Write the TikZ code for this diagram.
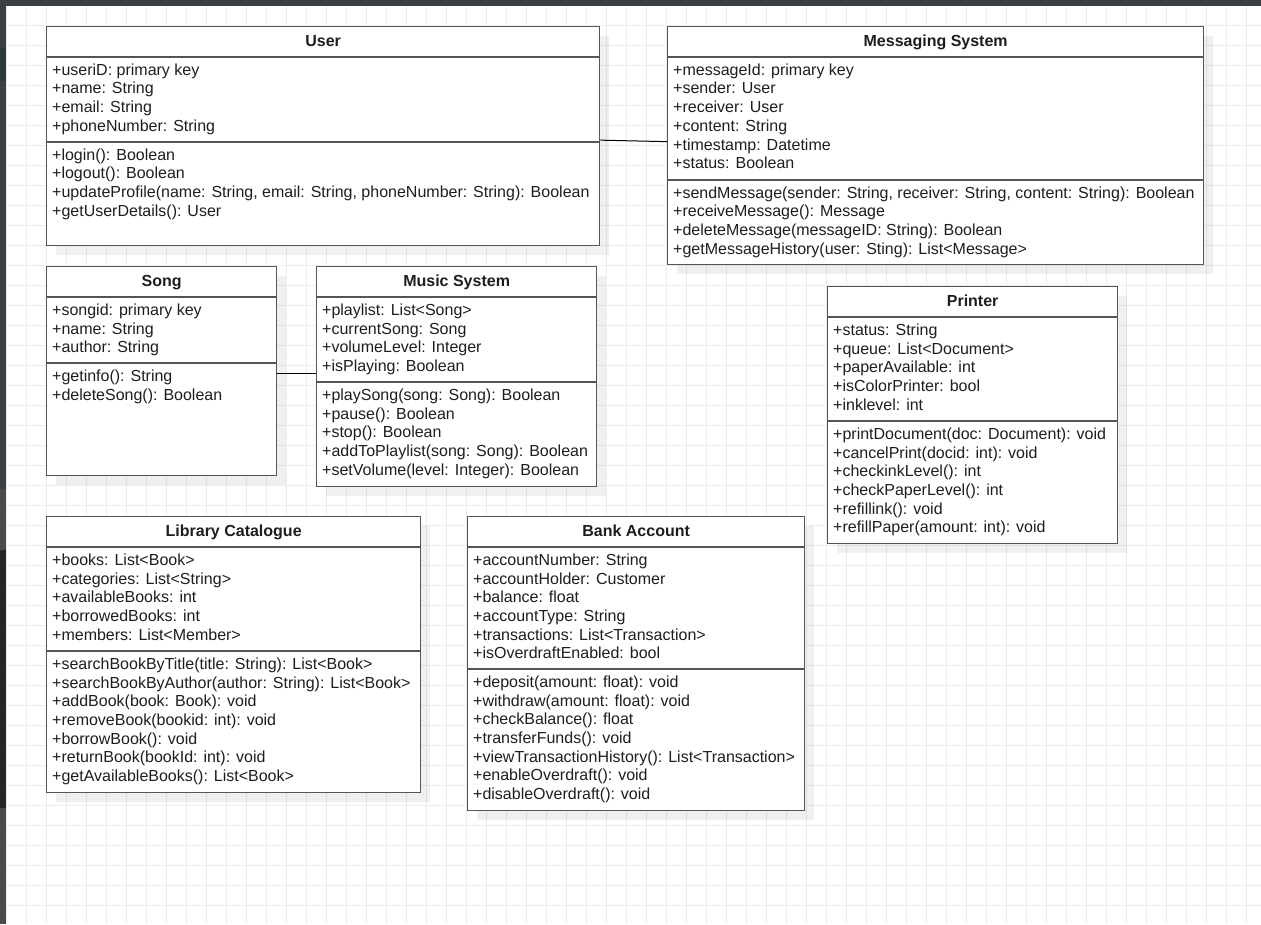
\documentclass[tikz,border=0pt]{standalone}
\usepackage{fontspec}
\setmainfont{Liberation Sans}
\usetikzlibrary{shadows}

\definecolor{boxgray}{RGB}{85,85,85}
\definecolor{textdark}{RGB}{30,30,30}
\definecolor{gridgray}{RGB}{236,236,236}
\definecolor{barslate}{RGB}{58,63,68}
\definecolor{bardeep}{RGB}{47,56,56}
\definecolor{barmid}{RGB}{74,74,74}
\definecolor{barblack}{RGB}{37,37,37}

\tikzset{
  classbox/.style={draw=boxgray,line width=1.3pt,fill=white,inner sep=0pt,anchor=north west,
    drop shadow={shadow xshift=9pt,shadow yshift=-9pt,fill=black,opacity=.06}},
  classhead/.style={font=\fontsize{16}{18.7}\selectfont\bfseries,text=textdark,inner sep=0pt,anchor=base},
  members/.style={font=\fontsize{16}{18.7}\selectfont,text=textdark,inner sep=0pt,align=left,
    anchor=north west,execute at begin node=\rule{0pt}{13pt}},
  classline/.style={draw=boxgray,line width=1.3pt},
  assoc/.style={draw=black,line width=1pt},
  gridline/.style={draw=gridgray,line width=1.3pt}
}

\begin{document}
\begin{tikzpicture}[x=1pt,y=-1pt]
\useasboundingbox (0,0) rectangle (1261,924);

\fill[white] (0,0) rectangle (1261,924);
\foreach \gx in {0,...,62}
  \draw[gridline] ({6.7+20*\gx},5.7) -- ({6.7+20*\gx},924);
\foreach \gy in {0,...,45}
  \draw[gridline] (6.7,{5.7+20*\gy}) -- (1261,{5.7+20*\gy});

\fill[barslate] (0,0) rectangle (1261,5.7);
\fill[barslate] (0,0) rectangle (6,48);
\fill[bardeep] (0,48) rectangle (6,81);
\fill[barslate] (0,81) rectangle (6,489);
\fill[barmid] (0,489) rectangle (6,550);
\fill[barblack] (0,550) rectangle (6,808);
\fill[barmid] (0,808) rectangle (6,924);

% User
\node[classbox,minimum width=553,minimum height=219] (user) at (46,26) {};
\node[classhead,yshift=-20.7pt] (userhead) at (user.north) {User};
\draw[classline] (user.west |- 0,57) -- (user.east |- 0,57);
\node[members] (userattr) at (52,63.5) {+useriD: primary key\\+name: String\\+email: String\\+phoneNumber: String};
\draw[classline] (user.west |- 0,142) -- (user.east |- 0,142);
\node[members] (userops) at (52,148.5) {+login(): Boolean\\+logout(): Boolean\\+updateProfile(name: String, email: String, phoneNumber: String): Boolean\\+getUserDetails(): User};

% Messaging System
\node[classbox,minimum width=536,minimum height=238] (msg) at (667,26) {};
\node[classhead,yshift=-20.7pt] (msghead) at (msg.north) {Messaging System};
\draw[classline] (msg.west |- 0,57) -- (msg.east |- 0,57);
\node[members] (msgattr) at (673,63.5) {+messageId: primary key\\+sender: User\\+receiver: User\\+content: String\\+timestamp: Datetime\\+status: Boolean};
\draw[classline] (msg.west |- 0,180) -- (msg.east |- 0,180);
\node[members] (msgops) at (673,186.5) {+sendMessage(sender: String, receiver: String, content: String): Boolean\\+receiveMessage(): Message\\+deleteMessage(messageID: String): Boolean\\+getMessageHistory(user: Sting): List<Message>};

% Song
\node[classbox,minimum width=230,minimum height=209] (song) at (46,266) {};
\node[classhead,yshift=-20.7pt] (songhead) at (song.north) {Song};
\draw[classline] (song.west |- 0,297) -- (song.east |- 0,297);
\node[members] (songattr) at (52,303.5) {+songid: primary key\\+name: String\\+author: String};
\draw[classline] (song.west |- 0,363) -- (song.east |- 0,363);
\node[members] (songops) at (52,369.5) {+getinfo(): String\\+deleteSong(): Boolean};

% Music System
\node[classbox,minimum width=280,minimum height=220] (music) at (316,266) {};
\node[classhead,yshift=-20.7pt] (musichead) at (music.north) {Music System};
\draw[classline] (music.west |- 0,297) -- (music.east |- 0,297);
\node[members] (musicattr) at (322,303.5) {+playlist: List<Song>\\+currentSong: Song\\+volumeLevel: Integer\\+isPlaying: Boolean};
\draw[classline] (music.west |- 0,382) -- (music.east |- 0,382);
\node[members] (musicops) at (322,388.5) {+playSong(song: Song): Boolean\\+pause(): Boolean\\+stop(): Boolean\\+addToPlaylist(song: Song): Boolean\\+setVolume(level: Integer): Boolean};

% Printer
\node[classbox,minimum width=290,minimum height=257] (printer) at (827,286) {};
\node[classhead,yshift=-20.7pt] (printerhead) at (printer.north) {Printer};
\draw[classline] (printer.west |- 0,317) -- (printer.east |- 0,317);
\node[members] (printerattr) at (833,323.5) {+status: String\\+queue: List<Document>\\+paperAvailable: int\\+isColorPrinter: bool\\+inklevel: int};
\draw[classline] (printer.west |- 0,421) -- (printer.east |- 0,421);
\node[members] (printerops) at (833,427.5) {+printDocument(doc: Document): void\\+cancelPrint(docid: int): void\\+checkinkLevel(): int\\+checkPaperLevel(): int\\+refillink(): void\\+refillPaper(amount: int): void};

% Library Catalogue
\node[classbox,minimum width=374,minimum height=276] (library) at (46,516) {};
\node[classhead,yshift=-20.7pt] (libraryhead) at (library.north) {Library Catalogue};
\draw[classline] (library.west |- 0,547) -- (library.east |- 0,547);
\node[members] (libraryattr) at (52,553.5) {+books: List<Book>\\+categories: List<String>\\+availableBooks: int\\+borrowedBooks: int\\+members: List<Member>};
\draw[classline] (library.west |- 0,651) -- (library.east |- 0,651);
\node[members] (libraryops) at (52,657.5) {+searchBookByTitle(title: String): List<Book>\\+searchBookByAuthor(author: String): List<Book>\\+addBook(book: Book): void\\+removeBook(bookid: int): void\\+borrowBook(): void\\+returnBook(bookId: int): void\\+getAvailableBooks(): List<Book>};

% Bank Account
\node[classbox,minimum width=337,minimum height=294] (bank) at (467,516) {};
\node[classhead,yshift=-20.7pt] (bankhead) at (bank.north) {Bank Account};
\draw[classline] (bank.west |- 0,547) -- (bank.east |- 0,547);
\node[members] (bankattr) at (473,553.5) {+accountNumber: String\\+accountHolder: Customer\\+balance: float\\+accountType: String\\+transactions: List<Transaction>\\+isOverdraftEnabled: bool};
\draw[classline] (bank.west |- 0,669) -- (bank.east |- 0,669);
\node[members] (bankops) at (473,675.5) {+deposit(amount: float): void\\+withdraw(amount: float): void\\+checkBalance(): float\\+transferFunds(): void\\+viewTransactionHistory(): List<Transaction>\\+enableOverdraft(): void\\+disableOverdraft(): void};

\draw[assoc] ([yshift=-4pt]user.east) -- ([yshift=4pt]msg.west);
\draw[assoc] ([yshift=-2.5pt]song.east) -- ([yshift=3pt]music.west);

\end{tikzpicture}
\end{document}
